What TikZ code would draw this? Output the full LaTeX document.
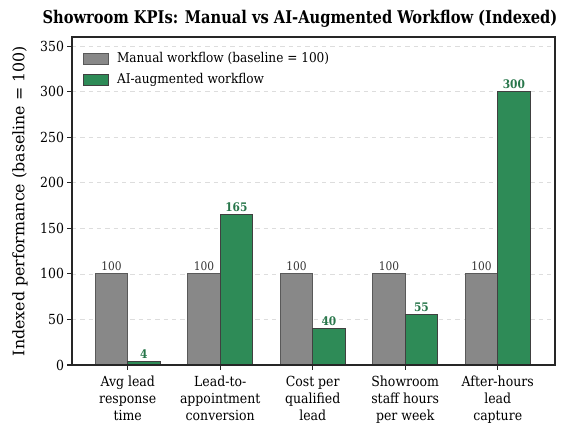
\documentclass[tikz,border=0pt]{standalone}
\usepackage{fontspec}
\setmainfont{DejaVu Serif Condensed}
\newfontfamily\wideserif{DejaVu Serif}
\definecolor{manualgray}{HTML}{888888}
\definecolor{aigreen}{HTML}{2E8B57}
\definecolor{gridgray}{HTML}{DDDDDD}

\begin{document}
\begin{tikzpicture}[x=0.72pt,y=0.72pt,
  every node/.style={inner sep=0pt,outer sep=0pt},
  manual/.style={draw=black!65,fill=manualgray,line width=0.6pt},
  aibar/.style={draw=black!75,fill=aigreen,line width=0.6pt},
  manualval/.style={font=\fontsize{8.5}{10}\selectfont,text=black!80,anchor=south},
  aival/.style={font=\bfseries\fontsize{8.5}{10}\selectfont,text=aigreen!85!black,anchor=south},
  ticklab/.style={font=\fontsize{10}{12.5}\selectfont},
  leglab/.style={font=\fontsize{9.7}{12}\selectfont,anchor=west},
  catlab/.style={font=\fontsize{10}{12.3}\selectfont,align=center,anchor=north}]
\useasboundingbox (0,0) rectangle (579,426);

% grid
\foreach \v in {50,100,...,350}
  \draw[gridgray,dashed,line width=0.5pt] (72,61+0.9111*\v) -- (555,61+0.9111*\v);

% bars
\foreach \i/\v/\lab in {0/4/avg,1/165/conv,2/40/cost,3/55/staff,4/300/after} {
  \draw[manual] (127.7+92.5*\i-32.4,61) rectangle (127.7+92.5*\i,61+91.11);
  \node[manualval] (m\lab) at (127.7+92.5*\i-16.2,61+91.11+3) {100};
  \draw[aibar] (127.7+92.5*\i,61) rectangle (127.7+92.5*\i+32.4,61+0.9111*\v);
  \node[aival] (a\lab) at (127.7+92.5*\i+16.2,61+0.9111*\v+3) {\v};
}

% axes frame
\draw[black!85,line width=0.8pt] (72,61) rectangle (555,389);
\foreach \v in {0,50,...,350} {
  \draw[black!85,line width=0.8pt] (72,61+0.9111*\v) -- ++(-5,0);
  \node[ticklab,anchor=east] (y\v) at (64,61+0.9111*\v) {\v};
}
\foreach \i/\txt in {0/{Avg lead\\response\\time},1/{Lead-to-\\appointment\\conversion},
                     2/{Cost per\\qualified\\lead},3/{Showroom\\staff hours\\per week},
                     4/{After-hours\\lead\\capture}} {
  \draw[black!85,line width=0.8pt] (127.7+92.5*\i,61) -- ++(0,-5);
  \node[catlab] (x\i) at (127.7+92.5*\i,50) {\txt};
}

% labels
\node[font=\wideserif\fontsize{11.4}{13}\selectfont,rotate=90] (ylab) at (20,225) {Indexed performance (baseline = 100)};
\node[font=\bfseries\fontsize{12.6}{15}\selectfont] (title) at (300,407)
  {\scalebox{0.93}[1]{Showroom KPIs: Manual vs AI-Augmented Workflow (Indexed)}};

% legend
\draw[manual] (83,362) rectangle (108,373);
\node[leglab] (legman) at (117,367.5) {Manual workflow (baseline = 100)};
\draw[aibar] (83,341) rectangle (108,352);
\node[leglab] (legai) at (117,346.5) {AI-augmented workflow};
\end{tikzpicture}
\end{document}
